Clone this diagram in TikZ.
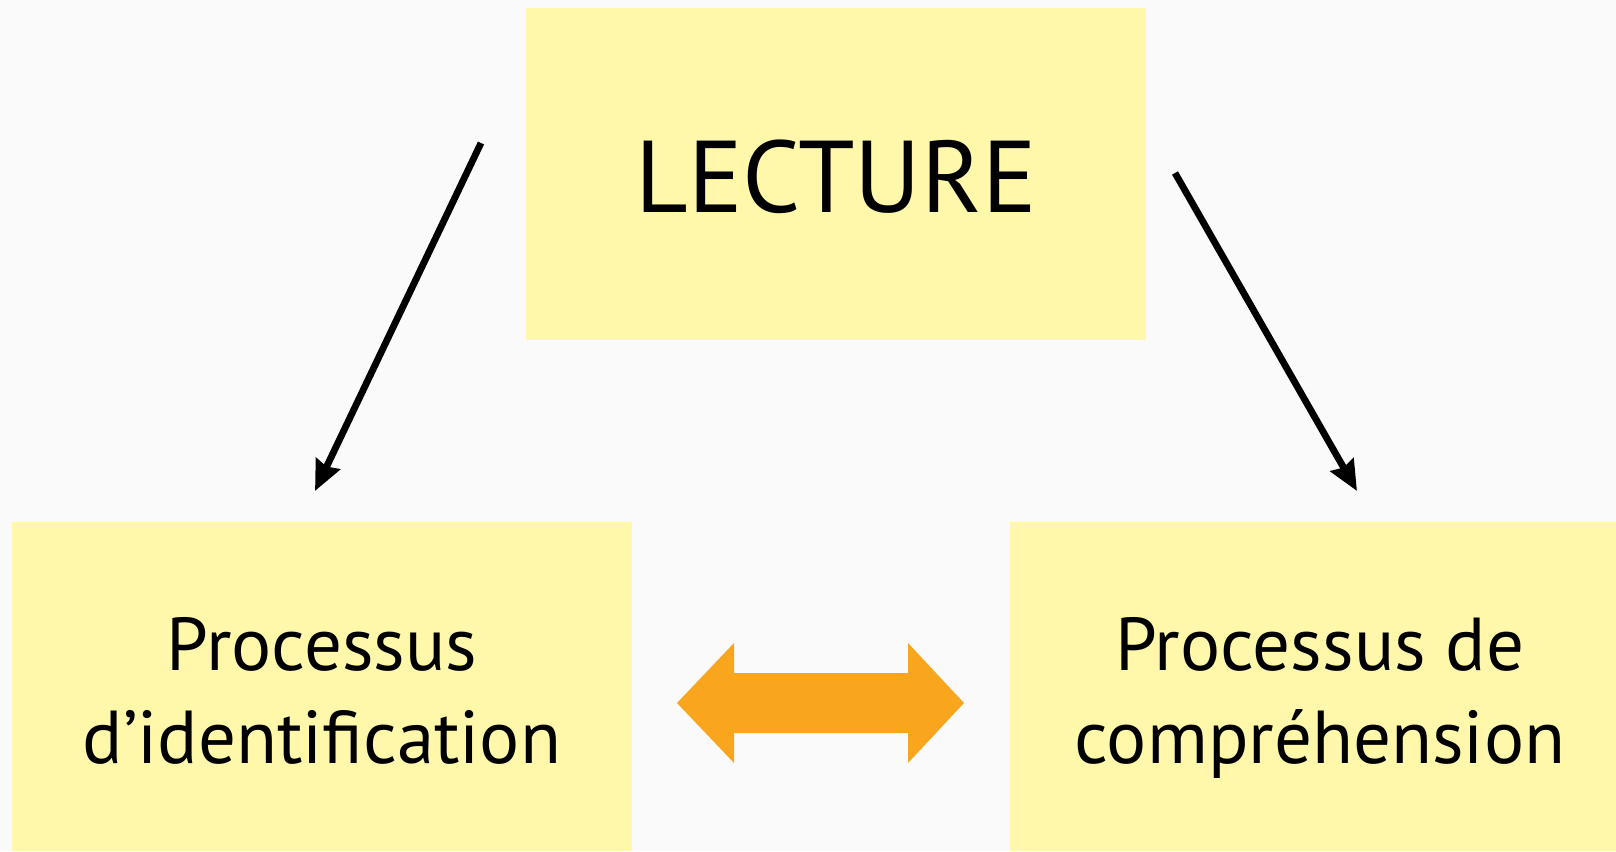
\documentclass[tikz,border=0pt]{standalone}
\usepackage{fontspec}
\setmainfont{PT Sans}
\usetikzlibrary{arrows.meta}
\definecolor{bg}{RGB}{250,250,250}
\definecolor{boxy}{RGB}{255,248,170}
\definecolor{orng}{RGB}{249,166,30}
\begin{document}
\begin{tikzpicture}[x=0.5pt,y=-0.5pt,
  boxstyle/.style={fill=boxy,draw=none,inner sep=0pt},
  lbl/.style={inner sep=0pt,anchor=base,font=\fontsize{37.5}{46}\selectfont},
  linkarrow/.style={line width=3.4pt,-{Stealth[length=15pt,width=13pt,inset=1.5pt]}}]
\useasboundingbox (0,0) rectangle (1616,851);
\fill[bg] (0,0) rectangle (1616,851);
\node[boxstyle,minimum width=310pt,minimum height=166pt] (lec) at (836,174) {};
\node[boxstyle,minimum width=310pt,minimum height=164.5pt] (ident) at (322,686.5) {};
\node[boxstyle,minimum width=303pt,minimum height=164.5pt] (compr) at (1313,686.5) {};
\node[lbl,font=\fontsize{51}{58}\selectfont] (lect) at (836,212) {LECTURE};
\node[lbl] (id1) at (322,670) {Processus};
\node[lbl] (id2) at (322,763) {d’identification};
\node[lbl] (co1) at (1320,670) {Processus de};
\node[lbl] (co2) at (1320,763) {compréhension};
\coordinate (l1) at (481,143);
\coordinate (l2) at (315,491);
\coordinate (r1) at (1175,173);
\coordinate (r2) at (1357,491);
\draw[linkarrow] (l1) -- (l2);
\draw[linkarrow] (r1) -- (r2);
\fill[orng] (677,703) -- (734,643) -- (734,673) -- (908,673) -- (908,643) -- (964,703)
  -- (908,763) -- (908,733) -- (734,733) -- (734,763) -- cycle;
\end{tikzpicture}
\end{document}
